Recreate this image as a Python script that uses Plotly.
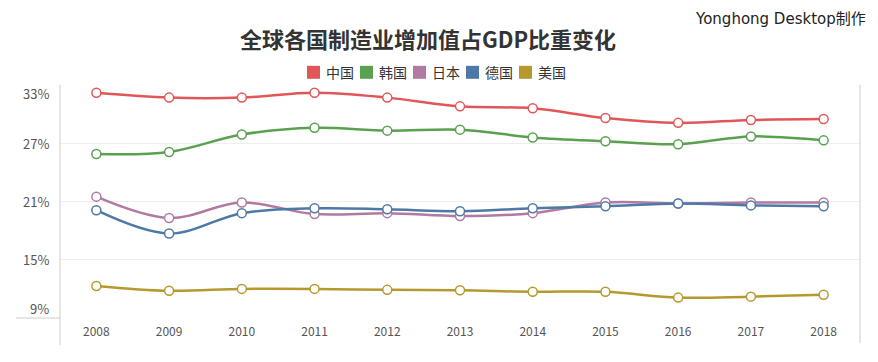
import plotly.graph_objects as go

years = ["2008", "2009", "2010", "2011", "2012", "2013", "2014", "2015", "2016", "2017", "2018"]
series_names = ["中国", "韩国", "日本", "德国", "美国"]
china = [32.2, 31.7, 31.7, 32.2, 31.7, 30.8, 30.6, 29.6, 29.1, 29.4, 29.5]
korea = [25.9, 26.1, 27.9, 28.6, 28.3, 28.4, 27.6, 27.2, 26.9, 27.7, 27.3]
japan = [21.5, 19.3, 20.9, 19.7, 19.8, 19.5, 19.8, 20.9, 20.8, 20.9, 20.9]
germany = [20.1, 17.7, 19.8, 20.3, 20.2, 20.0, 20.3, 20.5, 20.8, 20.6, 20.5]
usa = [12.3, 11.8, 12.0, 12.0, 11.9, 11.85, 11.7, 11.7, 11.1, 11.2, 11.4]
y_tick_vals = [9, 15, 21, 27, 33]
y_tick_text = ["9%", "15%", "21%", "27%", "33%"]

colors = ["#E15759", "#59A14F", "#B07AA1", "#4E79A7", "#B6992D"]
all_series = [china, korea, japan, germany, usa]

# page is rendered with an 8px body margin, so the figure starts at (8, 8)
OX, OY = 8, 8
PAGE_W, PAGE_H = 878, 362
W, H = PAGE_W - OX, PAGE_H - OY
PLOT_L, PLOT_R, PLOT_T, PLOT_B = 60, 860, 84.7, 318   # page pixel bounds of the plot area
L, R, T, B = PLOT_L - OX, PAGE_W - PLOT_R, PLOT_T - OY, PAGE_H - PLOT_B
PW, PH = PLOT_R - PLOT_L, PLOT_B - PLOT_T
CJK = "Noto Sans CJK SC"


def px_x(px):
    return (px - PLOT_L) / PW


def px_y(py):
    return (PLOT_B - py) / PH


fig = go.Figure()
for name, vals, c in zip(series_names, all_series, colors):
    fig.add_trace(go.Scatter(
        x=years, y=vals, name=name, mode="lines+markers",
        line=dict(shape="spline", width=2.5, color=c, smoothing=1),
        marker=dict(size=9, color="white", line=dict(width=1.5, color=c)),
        showlegend=False, cliponaxis=False,
        hovertemplate="%{x}: %{y}%<extra>" + name + "</extra>",
    ))

annotations = []
shapes = []
# y tick labels
for v, t in zip(y_tick_vals, y_tick_text):
    anchor = "middle"
    if v == max(y_tick_vals):
        anchor = "top"
    elif v == min(y_tick_vals):
        anchor = "bottom"
    annotations.append(dict(xref="paper", yref="y", x=px_x(51), y=v, text=t,
                            xanchor="right", yanchor=anchor, showarrow=False,
                            yshift=3 if anchor == "top" else (-2 if anchor == "bottom" else 0),
                            font=dict(family=CJK, size=13, color="#555555")))

# legend (custom squares + labels)
leg_x0, leg_step, leg_y = 307, 53, 72
for i, (name, c) in enumerate(zip(series_names, colors)):
    x0 = leg_x0 + i * leg_step
    shapes.append(dict(type="rect", xref="paper", yref="paper",
                       x0=px_x(x0), x1=px_x(x0 + 13), y0=px_y(leg_y + 6.5), y1=px_y(leg_y - 6.5),
                       fillcolor=c, line=dict(width=0)))
    annotations.append(dict(xref="paper", yref="paper", x=px_x(x0 + 17), y=px_y(leg_y),
                            text=name, xanchor="left", yanchor="middle", showarrow=False,
                            font=dict(family=CJK, size=14, color="#333333")))

annotations.append(dict(xref="paper", yref="paper", x=px_x(868), y=px_y(19),
                        text="Yonghong Desktop制作", xanchor="right", yanchor="middle",
                        showarrow=False,
                        font=dict(family="DejaVu Sans, Noto Sans CJK SC", size=15, color="#222222")))

# axis frame lines
shapes.append(dict(type="line", xref="paper", yref="paper", x0=0, x1=0,
                   y0=px_y(345), y1=px_y(84.5), line=dict(color="#cccccc", width=1)))
shapes.append(dict(type="line", xref="paper", yref="paper", x0=px_x(16), x1=0,
                   y0=0, y1=0, line=dict(color="#cccccc", width=1)))
shapes.append(dict(type="line", xref="paper", yref="paper", x0=1, x1=1,
                   y0=px_y(343), y1=px_y(84.5), line=dict(color="#cccccc", width=1)))

fig.update_layout(
    width=W, height=H,
    margin=dict(l=L, r=R, t=T, b=B, pad=0),
    paper_bgcolor="white", plot_bgcolor="white",
    title=dict(text="<b>全球各国制造业增加值占GDP比重变化</b>", xref="container", yref="container",
               x=(428 - OX) / W, y=1 - (40 - OY) / H, xanchor="center", yanchor="middle",
               font=dict(family=CJK, size=22, color="#333333")),
    annotations=annotations, shapes=shapes,
    showlegend=False,
)
fig.update_xaxes(type="category", range=[-0.5, 10.5], showgrid=False, showline=False,
                 zeroline=False, ticks="", ticklabelstandoff=5,
                 tickfont=dict(family=CJK, size=12, color="#555555"))
fig.update_yaxes(range=[9, 33], tickvals=y_tick_vals, showticklabels=False,
                 gridcolor="#eeeeee", gridwidth=1, zeroline=False, showline=False)

fig.write_html("out.html")
